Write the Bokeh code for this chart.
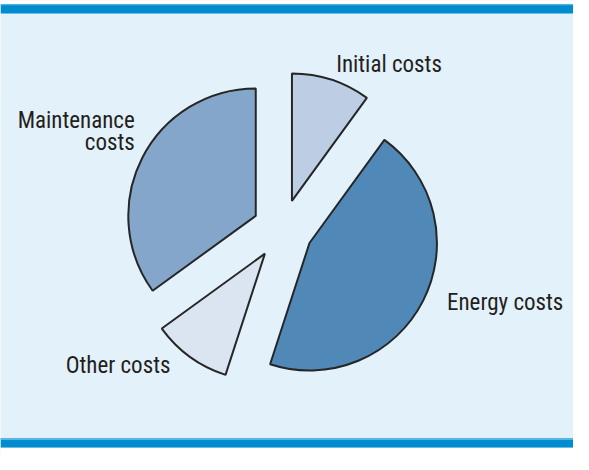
import numpy as np
from bokeh.plotting import figure
from bokeh.models import Range1d, ColumnDataSource
from bokeh.core.properties import value
from bokeh.embed import file_html
from bokeh.resources import INLINE

# ---- data ----
categories = ["Initial costs", "Energy costs", "Other costs", "Maintenance costs"]
shares = [10, 45, 10, 35]
slice_colors = ["#bccde4", "#5088b8", "#dbe5f1", "#85a6cb"]
label_lines = ["Initial costs", "Energy costs", "Other costs", "Maintenance", "costs"]

# ---- layout: data units = reference picture pixels (589 x 470), y flipped ----
RW, RH = 589, 470
W, H = 573, 454


def fy(Y):
    return RH - Y


CX, CY = 290, fy(237)
R = 131
EXPLODE = 31

BG = "#e3f1fa"
BAR = "#008ccf"
BAR_LIGHT = "#5ab5e3"
INK = "#231f20"

p = figure(width=W, height=H, output_backend="svg", toolbar_location=None,
           x_range=Range1d(0, RW), y_range=Range1d(0, RH),
           x_axis_location=None, y_axis_location=None,
           min_border=0, min_border_left=0, min_border_right=0,
           min_border_top=0, min_border_bottom=0)
p.grid.visible = False
p.outline_line_color = None
p.background_fill_color = BG
p.border_fill_color = "white"

# white margins and blue rules at top and bottom
p.quad(left=0, right=RW, bottom=fy(4), top=fy(0), fill_color="white", line_color=None)
p.quad(left=0, right=RW, bottom=fy(13.5), top=fy(4), fill_color=BAR, line_color=None)
p.quad(left=0, right=RW, bottom=fy(5), top=fy(4), fill_color=BAR_LIGHT, line_color=None)
p.quad(left=0, right=RW, bottom=fy(463), top=fy(453), fill_color=BAR, line_color=None)
p.quad(left=0, right=RW, bottom=fy(455), top=fy(453), fill_color=BAR_LIGHT, line_color=None)
p.quad(left=0, right=RW, bottom=fy(RH), top=fy(463), fill_color="white", line_color=None)

# exploded pie, clockwise from 12 o'clock
vals = np.array(shares, dtype=float)
frac = vals / vals.sum()
cum = np.concatenate([[0.0], np.cumsum(frac)])
a0 = np.pi / 2 - 2 * np.pi * cum[:-1]
a1 = np.pi / 2 - 2 * np.pi * cum[1:]
mid = (a0 + a1) / 2
xs = CX + EXPLODE * np.cos(mid)
ys = CY + EXPLODE * np.sin(mid)

src = ColumnDataSource(dict(x=xs, y=ys, start=a1, end=a0, color=slice_colors, cat=categories))
p.wedge(x="x", y="y", radius=R, start_angle="start", end_angle="end",
        fill_color="color", line_color="#262626", line_width=2, source=src)

# labels
lab_X = [345, 459, 67, 138, 138]
lab_Y = [66, 313, 378, 124, 147]
lab_align = ["left", "left", "left", "right", "right"]
lsrc = ColumnDataSource(dict(x=lab_X, y=[fy(v) for v in lab_Y],
                             text=label_lines, align=lab_align))
p.text(x="x", y="y", text="text", text_align="align", text_baseline="alphabetic",
       text_font=value("Roboto Condensed"), text_font_size="23px",
       text_color=INK, source=lsrc)

open("out.html", "w").write(file_html(p, INLINE))
